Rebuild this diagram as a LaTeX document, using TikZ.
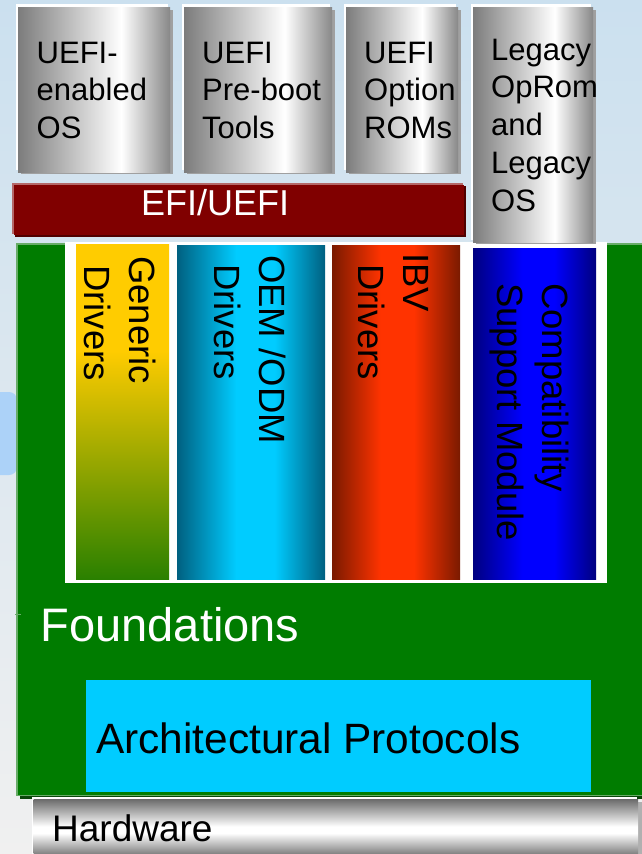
\documentclass[tikz,border=0pt]{standalone}
\usepackage{fontspec}
\setmainfont{Liberation Sans}
\definecolor{bgtop}{RGB}{203,224,239}
\definecolor{bgbot}{RGB}{240,240,240}
\definecolor{blob}{RGB}{172,210,248}
\definecolor{efired}{RGB}{128,0,0}
\definecolor{efilight}{RGB}{180,104,104}
\definecolor{efidark}{RGB}{80,0,0}
\definecolor{fgreen}{RGB}{0,124,0}
\definecolor{fgreenlight}{RGB}{104,172,104}
\definecolor{fgreendark}{RGB}{10,70,10}
\definecolor{apcyan}{RGB}{0,204,255}
\definecolor{boxshadow}{RGB}{160,160,160}
\definecolor{hwshadow}{RGB}{176,176,176}
\definecolor{gA}{RGB}{124,124,124}
\definecolor{gB}{RGB}{136,136,136}
\definecolor{hwb}{RGB}{128,128,128}
\definecolor{hwt}{RGB}{106,106,106}
\definecolor{genB}{RGB}{42,128,0}
\definecolor{genY}{RGB}{255,204,0}
\definecolor{oemD}{RGB}{0,96,128}
\definecolor{oemL}{RGB}{0,204,255}
\definecolor{ibvD}{RGB}{122,26,0}
\definecolor{ibvL}{RGB}{255,51,0}
\definecolor{csmD}{RGB}{0,0,128}
\definecolor{csmL}{RGB}{0,0,255}
\pgfdeclarehorizontalshading{boxgray}{100bp}{color(0bp)=(gA); color(25bp)=(gA); color(59bp)=(white); color(75bp)=(gB); color(100bp)=(gB)}
\pgfdeclareverticalshading{hwgray}{100bp}{color(0bp)=(hwb); color(25bp)=(hwb); color(44bp)=(white); color(50bp)=(white); color(75bp)=(hwt); color(100bp)=(hwt)}
\pgfdeclareverticalshading{genshade}{100bp}{color(0bp)=(genB); color(25bp)=(genB); color(59bp)=(genY); color(100bp)=(genY)}
\pgfdeclarehorizontalshading{oemshade}{100bp}{color(0bp)=(oemD); color(25bp)=(oemD); color(45bp)=(oemL); color(58bp)=(oemL); color(75bp)=(oemD); color(100bp)=(oemD)}
\pgfdeclarehorizontalshading{ibvshade}{100bp}{color(0bp)=(ibvD); color(25bp)=(ibvD); color(44bp)=(ibvL); color(57bp)=(ibvL); color(75bp)=(ibvD); color(100bp)=(ibvD)}
\pgfdeclarehorizontalshading{csmshade}{100bp}{color(0bp)=(csmD); color(25bp)=(csmD); color(45bp)=(csmL); color(58bp)=(csmL); color(75bp)=(csmD); color(100bp)=(csmD)}
\newcommand\grayslab[4]{%
  \fill[white] (#1-2,#2-3) rectangle (#3-2,#4-2);
  \fill[boxshadow] (#1+3,#2+3) rectangle (#3+2.5,#4+2);
  \shade[shading=boxgray] (#1,#2) rectangle (#3,#4);}
\tikzset{
  boxtext/.style={anchor=base west, inner sep=0pt, align=left, text=black,
    font=\fontsize{31}{37.75}\selectfont},
  coltext/.style={rotate=-90, anchor=base west, inner sep=0pt, align=left, text=black,
    font=\fontsize{36.5}{45}\selectfont},
}
\begin{document}
\begin{tikzpicture}[x=1pt,y=-1pt]
\useasboundingbox (0,0) rectangle (642,854);
% background
\shade[top color=bgtop, bottom color=bgbot] (0,0) rectangle (642,854);
\fill[blob, rounded corners=8pt] (-10,392) rectangle (17,475);
% top boxes
\grayslab{18}{7}{170}{172}
\grayslab{184}{7}{332}{172}
\grayslab{346}{7}{458}{172}
% EFI bar
\fill[efilight] (12,183) rectangle (463,234);
\fill[efidark] (15,186) rectangle (466,237);
\fill[efired] (14,185) rectangle (464,235);
% green foundations panel
\fill[fgreendark] (20,795) rectangle (642,799);
\fill[fgreenlight] (15.5,243) rectangle (642,796);
\fill[fgreen] (17.5,245) rectangle (642,795);
\draw[fgreenlight, line width=1pt] (15,614) -- (21,614);
% white driver panel
\fill[white] (65,242) rectangle (607,583);
\shade[shading=genshade] (76,244) rectangle (169,579);
\shade[shading=oemshade] (177,245) rectangle (325,579);
\shade[shading=ibvshade] (332,245) rectangle (460,579);
\shade[shading=csmshade] (473,248) rectangle (596,579);
% legacy box
\grayslab{473}{7}{593}{242}
% architectural protocols
\fill[apcyan] (86,680) rectangle (591,792);
% hardware
\fill[white] (32,797) rectangle (637,854);
\fill[hwshadow] (636,802) rectangle (642,854);
\shade[shading=hwgray] (33.5,799) rectangle (638,854);
% texts (anchor base = baseline of last line)
\node[boxtext] (os) at (36.5,138.5) {UEFI-\\enabled\\OS};
\node[boxtext] (tools) at (202,138.5) {UEFI\\Pre-boot\\Tools};
\node[boxtext] (roms) at (364,138.5) {UEFI\\Option\\ROMs};
\node[boxtext] (legacy) at (491,211) {Legacy\\OpRom\\and\\Legacy\\OS};
\node[anchor=base west, inner sep=0pt, text=white, font=\fontsize{36}{43}\selectfont] (efi) at (141,215) {EFI/UEFI};
\node[coltext] (generic) at (84.5,256) {Generic\\\hspace*{9pt}Drivers};
\node[coltext] (oem) at (214.5,255) {OEM /ODM\\\hspace*{9pt}Drivers};
\node[coltext] (ibv) at (358,253) {IBV\\\hspace*{11pt}Drivers};
\node[coltext] (csm) at (497,283) {Compatibility\\Support Module};
\node[anchor=base west, inner sep=0pt, text=white, font=\fontsize{47}{56}\selectfont] (found) at (40.5,641) {Foundations};
\node[anchor=base west, inner sep=0pt, text=black, font=\fontsize{42.4}{50}\selectfont] (arch) at (96,753) {Architectural Protocols};
\node[anchor=base west, inner sep=0pt, text=black, font=\fontsize{37}{44}\selectfont] (hw) at (52,841.5) {Hardware};
\end{tikzpicture}
\end{document}
